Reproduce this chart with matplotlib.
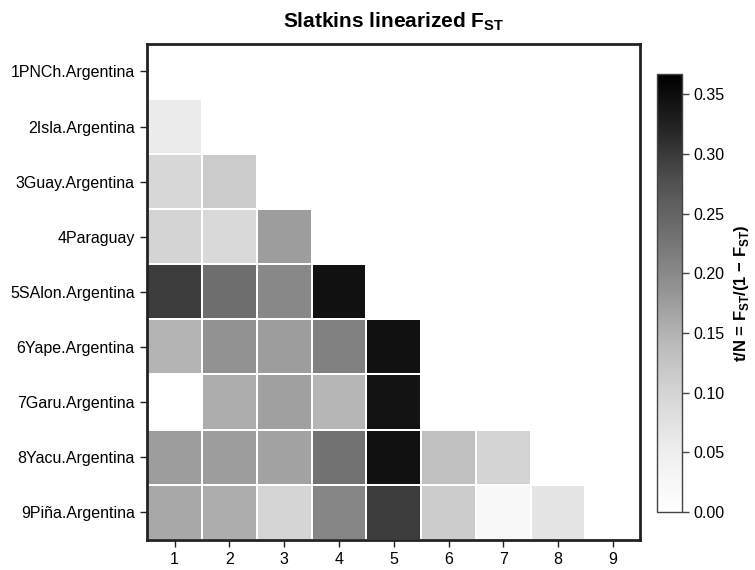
import numpy as np
import matplotlib.pyplot as plt

plt.rcParams['font.family'] = ['Liberation Sans', 'DejaVu Sans']
plt.rcParams['mathtext.fontset'] = 'custom'
plt.rcParams['mathtext.rm'] = 'Liberation Sans'
plt.rcParams['mathtext.bf'] = 'Liberation Sans:bold'

pops = ["1PNCh.Argentina", "2Isla.Argentina", "3Guay.Argentina", "4Paraguay",
        "5SAlon.Argentina", "6Yape.Argentina", "7Garu.Argentina",
        "8Yacu.Argentina", "9Piña.Argentina"]
col_labels = ["1", "2", "3", "4", "5", "6", "7", "8", "9"]

# lower triangle of pairwise linearized Fst (row i, cols 1..i-1)
row2 = [0.055]
row3 = [0.095, 0.116]
row4 = [0.100, 0.092, 0.175]
row5 = [0.297, 0.236, 0.202, 0.345]
row6 = [0.148, 0.189, 0.175, 0.212, 0.345]
row7 = [0.000, 0.157, 0.171, 0.146, 0.343]
row8 = [0.176, 0.176, 0.169, 0.230, 0.345, 0.132, 0.100]
row9 = [0.162, 0.157, 0.098, 0.204, 0.297, 0.113, 0.021, 0.068]
rows = [[], row2, row3, row4, row5, row6, row7, row8, row9]

n = len(pops)
mat = np.full((n, n), np.nan)
for i, r in enumerate(rows):
    for j, v in enumerate(r):
        mat[i, j] = v
data = np.ma.masked_invalid(mat)

fig = plt.figure(figsize=(7.55, 5.70), dpi=100)
ax = fig.add_axes([0.195, 0.053, 0.653, 0.870])
cax = fig.add_axes([0.870, 0.102, 0.033, 0.768])

mesh = ax.pcolormesh(np.arange(n + 1), np.arange(n + 1), data, cmap='Greys',
                     vmin=0, vmax=0.367, edgecolors='white', linewidth=1.2)
ax.set_xlim(0, n)
ax.set_ylim(n, 0)
ax.set_xticks(np.arange(n) + 0.5)
ax.set_xticklabels(col_labels, fontsize=11.5)
ax.set_yticks(np.arange(n) + 0.5)
ax.set_yticklabels(pops, fontsize=11.5)
ax.tick_params(length=5, width=1, color='#222222', pad=4)
for s in ax.spines.values():
    s.set_linewidth(2)
    s.set_color('#222222')
ax.set_title(r'Slatkins linearized F$_{\mathbf{ST}}$', fontsize=15,
             fontweight='bold', pad=12)

cb = fig.colorbar(mesh, cax=cax)
cb.set_ticks([0, 0.05, 0.10, 0.15, 0.20, 0.25, 0.30, 0.35])
cb.ax.tick_params(labelsize=11.5, length=5, width=1, color='#444444')
cb.outline.set_linewidth(1)
cb.outline.set_edgecolor('#444444')
cb.set_label(r't/N = F$_{\mathbf{ST}}$/(1 $\mathbf{-}$ F$_{\mathbf{ST}}$)',
             fontsize=12, fontweight='bold', labelpad=5)

fig.savefig('out.png', dpi=100)
